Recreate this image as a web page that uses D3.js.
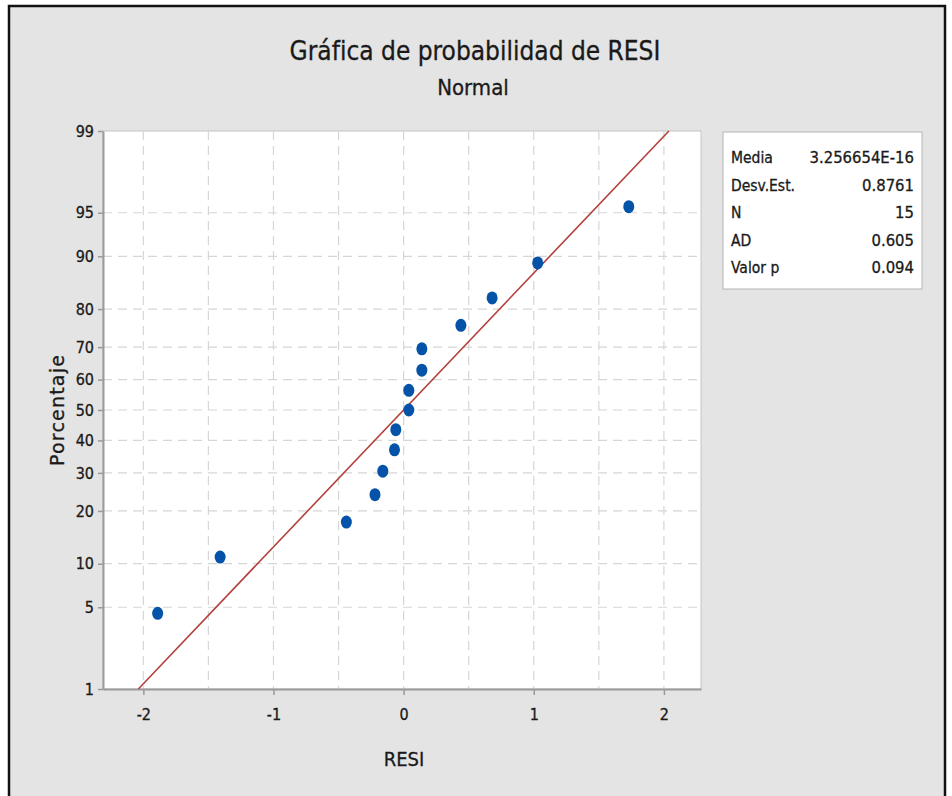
<!DOCTYPE html>
<html lang="es">
<head>
<meta charset="UTF-8">
<title>Gráfica de probabilidad de RESI</title>
<script src="https://d3js.org/d3.v7.min.js"></script>
<style>
    body { margin: 0; background: #fff; }
    text { font-family: "Liberation Sans Narrow", "DejaVu Sans Condensed", sans-serif; fill: #1a1a1a; stroke: #1a1a1a; stroke-width: 0.3; }
    .ylab { font-family: "DejaVu Sans", sans-serif; }
</style>
</head>
<body>
<svg id="chart" width="952" height="796"></svg>
<script>
    // residuos ordenados
    let resi = [-1.89, -1.41, -0.44, -0.22, -0.16, -0.07, -0.06, 0.04, 0.04, 0.14, 0.14, 0.44, 0.68, 1.03, 1.73]
    // porcentaje de cada punto
    let pct = [4.5, 11.0, 17.5, 24.0, 30.5, 37.0, 43.5, 50.0, 56.5, 63.0, 69.5, 76.0, 82.5, 89.0, 95.5]
    let yTicks = [1, 5, 10, 20, 30, 40, 50, 60, 70, 80, 90, 95, 99]
    let xTicks = [-2, -1, 0, 1, 2]
    let xGrid = [-2, -1.5, -1, -0.5, 0, 0.5, 1, 1.5, 2]
    let statLabels = ["Media", "Desv.Est.", "N", "AD", "Valor p"]
    let statValues = ["3.256654E-16", "0.8761", "15", "0.605", "0.094"]
    let media = 3.256654E-16, desv = 0.8761

    // inversa de la normal (aprox. de Acklam)
    function probit(p) {
        let a = [-39.69683028665376, 220.9460984245205, -275.9285104469687, 138.3577518672690, -30.66479806614716, 2.506628277459239]
        let b = [-54.47609879822406, 161.5858368580409, -155.6989798598866, 66.80131188771972, -13.28068155288572]
        let c = [-0.007784894002430293, -0.3223964580411365, -2.400758277161838, -2.549732539343734, 4.374664141464968, 2.938163982698783]
        let d = [0.007784695709041462, 0.3224671290700398, 2.445134137142996, 3.754408661907416]
        let q, r
        if (p < 0.02425) {
            q = Math.sqrt(-2 * Math.log(p))
            return (((((c[0]*q+c[1])*q+c[2])*q+c[3])*q+c[4])*q+c[5]) / ((((d[0]*q+d[1])*q+d[2])*q+d[3])*q+1)
        } else if (p > 1 - 0.02425) {
            q = Math.sqrt(-2 * Math.log(1 - p))
            return -(((((c[0]*q+c[1])*q+c[2])*q+c[3])*q+c[4])*q+c[5]) / ((((d[0]*q+d[1])*q+d[2])*q+d[3])*q+1)
        }
        q = p - 0.5; r = q * q
        return (((((a[0]*r+a[1])*r+a[2])*r+a[3])*r+a[4])*r+a[5])*q / (((((b[0]*r+b[1])*r+b[2])*r+b[3])*r+b[4])*r+1)
    }

    let svg = d3.select("#chart")
    let pL = 103, pR = 701, pT = 131, pB = 689

    // fondo gris con borde
    svg.append("rect").attr("x", 9).attr("y", 6).attr("width", 936).attr("height", 800)
        .attr("fill", "#e4e4e4").attr("stroke", "#111").attr("stroke-width", 2.5)

    let x = d3.scaleLinear().domain([-2.31, 2.285]).range([pL, pR])
    let yz = d3.scaleLinear().domain([probit(0.01), probit(0.99)]).range([pB, pT])
    let y = p => yz(probit(p / 100))

    svg.append("rect").attr("x", pL).attr("y", pT).attr("width", pR - pL).attr("height", pB - pT)
        .attr("fill", "#fff").attr("stroke", "#c4c4c4").attr("stroke-width", 1)

    // rejilla
    svg.append("g").selectAll("line").data(xGrid).join("line")
        .attr("x1", d => x(d)).attr("x2", d => x(d)).attr("y1", pT).attr("y2", pB)
        .attr("stroke", "#d6d6d6").attr("stroke-width", 1.2).attr("stroke-dasharray", "9,6")
    svg.append("g").selectAll("line").data(yTicks.slice(1, -1)).join("line")
        .attr("x1", pL).attr("x2", pR).attr("y1", d => y(d)).attr("y2", d => y(d))
        .attr("stroke", "#d6d6d6").attr("stroke-width", 1.2).attr("stroke-dasharray", "9,6")

    // ejes
    let xAxis = svg.append("g").attr("transform", `translate(0,${pB})`)
        .call(d3.axisBottom(x).tickValues(xTicks).tickSize(6).tickSizeOuter(0).tickPadding(14).tickFormat(d => String(d)))
    let yAxis = svg.append("g").attr("transform", `translate(${pL},0)`)
        .call(d3.axisLeft(yz).tickValues(yTicks.map(d => probit(d / 100))).tickSize(5).tickSizeOuter(0).tickPadding(4)
            .tickFormat((d, i) => String(yTicks[i])))
    for (let ax of [xAxis, yAxis]) {
        ax.attr("font-family", null)
        ax.select(".domain").attr("stroke", "#9a9a9a").attr("stroke-width", 2)
        ax.selectAll(".tick line").attr("stroke", "#9a9a9a").attr("stroke-width", 1.5)
        ax.selectAll(".tick text").attr("font-size", 16).attr("fill", "#1a1a1a")
    }

    // linea ajustada
    let pLine = [1, 99]
    svg.append("line")
        .attr("x1", x(media + desv * probit(pLine[0] / 100))).attr("y1", y(pLine[0]))
        .attr("x2", x(media + desv * probit(pLine[1] / 100))).attr("y2", y(pLine[1]))
        .attr("stroke", "#b3403d").attr("stroke-width", 1.6)

    // puntos
    svg.append("g").selectAll("ellipse").data(resi).join("ellipse")
        .attr("cx", d => x(d)).attr("cy", (d, i) => y(pct[i]))
        .attr("rx", 5.5).attr("ry", 6.5).attr("fill", "#0553a8")

    // titulos
    svg.append("text").attr("x", 475).attr("y", 60).attr("text-anchor", "middle")
        .attr("font-size", 26).text("Gráfica de probabilidad de RESI")
    svg.append("text").attr("x", 473).attr("y", 95).attr("text-anchor", "middle")
        .attr("font-size", 22).text("Normal")
    svg.append("text").attr("x", 404).attr("y", 766).attr("text-anchor", "middle")
        .attr("font-size", 20).text("RESI")
    svg.append("text").attr("transform", "translate(64,410) rotate(-90)").attr("text-anchor", "middle")
        .attr("class", "ylab").attr("font-size", 19).attr("letter-spacing", 1.2).text("Porcentaje")

    // cuadro de estadisticas
    let box = svg.append("g").attr("transform", "translate(723,132)")
    box.append("rect").attr("width", 199).attr("height", 157).attr("fill", "#fff").attr("stroke", "#b4b4b4")
    box.selectAll("text.lab").data(statLabels).join("text").attr("class", "lab")
        .attr("x", 8).attr("y", (d, i) => 31 + i * 27.5).attr("font-size", 15.5).text(d => d)
    box.selectAll("text.val").data(statValues).join("text").attr("class", "val")
        .attr("x", 191).attr("y", (d, i) => 31 + i * 27.5).attr("text-anchor", "end").attr("font-size", 16.5).text(d => d)
</script>
</body>
</html>
